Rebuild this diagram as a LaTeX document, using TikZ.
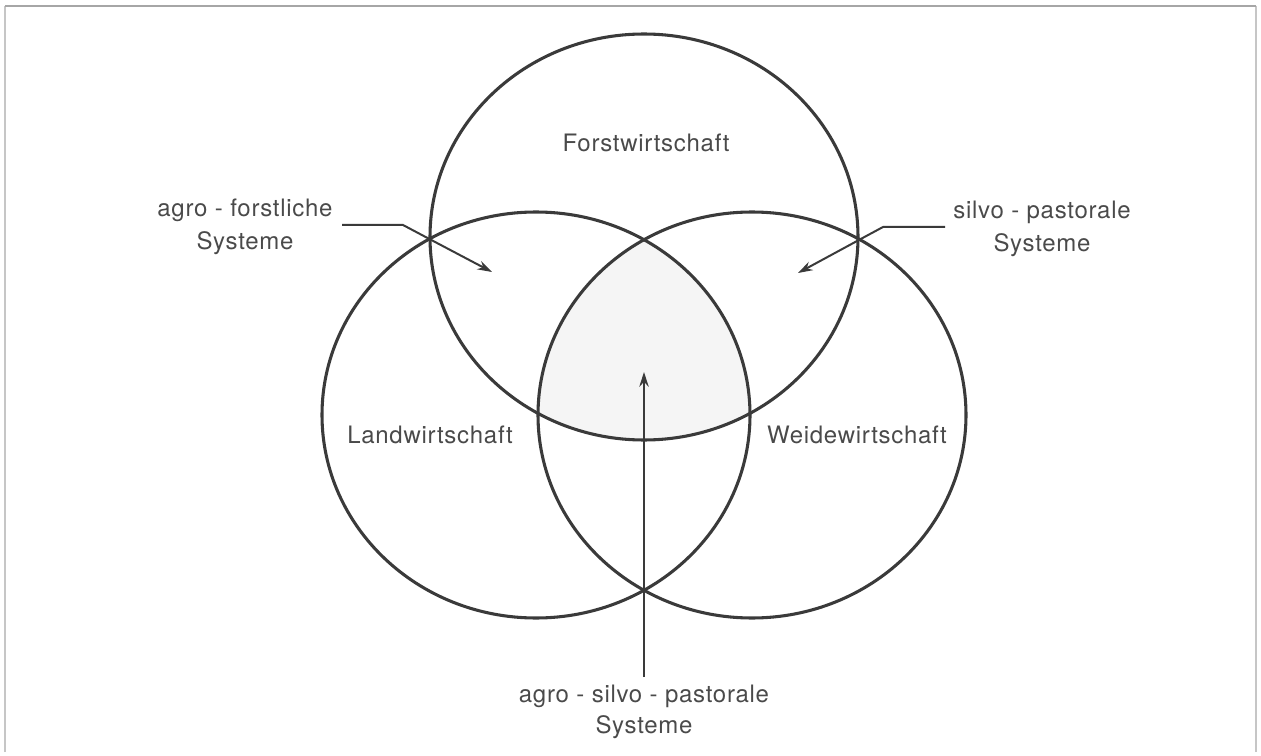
\documentclass[tikz,border=0pt]{standalone}
\usepackage{fontspec}
\setmainfont{TeX Gyre Heros}[LetterSpace=3]
\usetikzlibrary{arrows.meta}
\definecolor{ink}{HTML}{3A3A3A}
\definecolor{txt}{HTML}{4A4A4A}
\begin{document}
\begin{tikzpicture}[x=0.75pt,y=-0.75pt,
  ring/.style={draw=ink,line width=2.3pt},
  lead/.style={draw=ink,line width=1.5pt},
  arr/.style={lead,-{Stealth[length=11pt,width=7pt]}},
  lbl/.style={text=txt,font=\fontsize{18}{24}\selectfont,inner sep=0pt,anchor=base},
  frame/.style={draw=gray!45,line width=0.8pt},
  frametop/.style={draw=gray!70,line width=1.2pt}]
\useasboundingbox (0,0) rectangle (1261,756);
\draw[frame] (5,752) -- (5,6);
\draw[frame] (1256,6) -- (1256,752);
\draw[frametop] (5,6) -- (1256,6);
% circle centres
\coordinate (cF) at (644,237);
\coordinate (cL) at (536,415);
\coordinate (cR) at (752,415);
% shaded common region
\begin{scope}
  \clip (cF) ellipse[x radius=160.5pt,y radius=152.25pt];
  \clip (cL) ellipse[x radius=160.5pt,y radius=152.25pt];
  \fill[gray!8] (cR) ellipse[x radius=160.5pt,y radius=152.25pt];
\end{scope}
\draw[ring] (cF) ellipse[x radius=160.5pt,y radius=152.25pt];
\draw[ring] (cL) ellipse[x radius=160.5pt,y radius=152.25pt];
\draw[ring] (cR) ellipse[x radius=160.5pt,y radius=152.25pt];
% labels
\node[lbl] (forst) at (646,152) {Forstwirtschaft};
\node[lbl] (land) at (430,443) {Landwirtschaft};
\node[lbl] (weide) at (857,443) {Weidewirtschaft};
\node[lbl] (af1) at (245,217) {agro - forstliche};
\node[lbl] (af2) at (245,250) {Systeme};
\node[lbl] (sp1) at (1042,219) {silvo - pastorale};
\node[lbl] (sp2) at (1042,252) {Systeme};
\node[lbl] (asp1) at (644,702) {agro - silvo - pastorale};
\node[lbl] (asp2) at (644,733) {Systeme};
% leader lines
\coordinate (sL) at (342,225);
\coordinate (kL) at (403,225);
\coordinate (iL) at (430,239.3);
\coordinate (tL) at (492,272);
\coordinate (sR) at (945,227);
\coordinate (kR) at (883,227);
\coordinate (iR) at (860,239.4);
\coordinate (tR) at (798,273);
\coordinate (sB) at (644,677);
\coordinate (iB) at (644,590);
\coordinate (tB) at (644,372);
\draw[arr] (sL) -- (kL) -- (iL) -- (tL);
\draw[arr] (sR) -- (kR) -- (iR) -- (tR);
\draw[arr] (sB) -- (iB) -- (tB);
\end{tikzpicture}
\end{document}
